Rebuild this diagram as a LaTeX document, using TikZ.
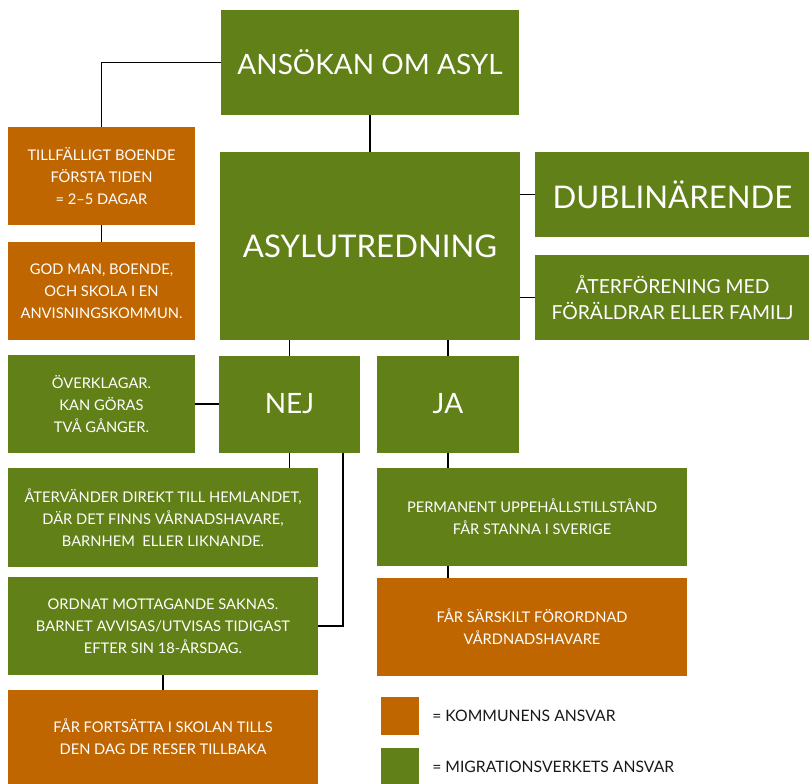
\documentclass[tikz,border=0pt]{standalone}
\usepackage{fontspec}
\setmainfont{Lato}
\usetikzlibrary{positioning}

\definecolor{mvgreen}{RGB}{98,128,24}
\definecolor{komorange}{RGB}{192,102,0}

\begin{document}
\begin{tikzpicture}[
    x=0.75pt, y=-0.75pt,
    box/.style={rectangle, inner sep=2pt, outer sep=0pt, text centered, align=center, text=white},
    green/.style={box, fill=mvgreen},
    orange/.style={box, fill=komorange},
    big/.style={font=\fontsize{21}{24}\selectfont},
    huge/.style={font=\fontsize{23.4}{26}\selectfont},
    small/.style={font=\fontsize{11}{16.5}\selectfont},
    mid/.style={font=\fontsize{14.5}{19.5}\selectfont},
    line/.style={line width=0.9pt, black},
    legend/.style={rectangle, minimum width=28.5pt, minimum height=28.5pt, outer sep=0pt},
    legendtext/.style={font=\fontsize{11.8}{14}\selectfont, text=black!90, inner sep=0pt},
]
\useasboundingbox (0,0) rectangle (809,784);

% Top of the tree
\node[green, big, minimum width=223.5pt, minimum height=78.75pt, anchor=north west] (ansokan) at (221,10) {ANSÖKAN OM ASYL};
\node[green, huge, minimum width=225pt, minimum height=141pt, below=27.75pt of ansokan] (utred) {ASYLUTREDNING};

% Right hand outcomes
\node[green, huge, minimum width=206.25pt, minimum height=63.75pt, right=11.25pt of utred.north east, anchor=north west] (dublin) {DUBLINÄRENDE};
\node[green, mid, minimum width=206.25pt, minimum height=63.75pt, below=13.5pt of dublin] (aterf) {ÅTERFÖRENING MED\\FÖRÄLDRAR ELLER FAMILJ};

% Municipality column
\node[orange, small, minimum width=140.25pt, minimum height=73.5pt, anchor=north west] (tillf) at (8,127) {TILLFÄLLIGT BOENDE\\FÖRSTA TIDEN\\= 2–5 DAGAR};
\node[orange, small, minimum width=140.25pt, minimum height=73.5pt, below=12.75pt of tillf] (godman) {GOD MAN, BOENDE,\\OCH SKOLA I EN\\ANVISNINGSKOMMUN.};

% Decision
\node[green, small, minimum width=140.25pt, minimum height=73.5pt, anchor=north west] (overkl) at (8,355) {ÖVERKLAGAR.\\KAN GÖRAS\\TVÅ GÅNGER.};
\node[green, big, minimum width=105.75pt, minimum height=72.75pt, right=18pt of overkl] (nej) {NEJ};
\node[green, big, minimum width=106.5pt, minimum height=72.75pt, right=12.75pt of nej] (ja) {JA};

% No branch
\node[green, small, minimum width=232.5pt, minimum height=74.25pt, anchor=north west] (aterv) at (8,468) {ÅTERVÄNDER DIREKT TILL HEMLANDET,\\DÄR DET FINNS VÅRNADSHAVARE,\\BARNHEM\ \ ELLER LIKNANDE.};
\node[green, small, minimum width=232.5pt, minimum height=73.5pt, below=7.5pt of aterv] (ordnat) {ORDNAT MOTTAGANDE SAKNAS.\\BARNET AVVISAS/UTVISAS TIDIGAST\\EFTER SIN 18-ÅRSDAG.};
\node[orange, small, minimum width=232.5pt, minimum height=70.5pt, below=11.25pt of ordnat] (fortsatta) {FÅR FORTSÄTTA I SKOLAN TILLS\\DEN DAG DE RESER TILLBAKA};

% Yes branch
\node[green, small, minimum width=232.5pt, minimum height=73.5pt, below=11.25pt of ja.south west, anchor=north west] (perm) {PERMANENT UPPEHÅLLSTILLSTÅND\\FÅR STANNA I SVERIGE};
\node[orange, small, minimum width=232.5pt, minimum height=73.5pt, below=9pt of perm] (sarsk) {FÅR SÄRSKILT FÖRORDNAD\\VÅRDNADSHAVARE};

% Legend
\node[legend, fill=komorange, anchor=north west] (legkom) at (381,697) {};
\node[legend, fill=mvgreen, below=9.75pt of legkom] (legmig) {};
\node[legendtext, right=9.75pt of legkom] (legkomtxt) {= KOMMUNENS ANSVAR};
\node[legendtext, right=9.75pt of legmig] (legmigtxt) {= MIGRATIONSVERKETS ANSVAR};

% Connectors
\coordinate (nejout) at ([xshift=-12.75pt]nej.south east);
\draw[line] (ansokan.west) -| (tillf.north);
\draw[line] (tillf) -- (godman);
\draw[line] (ansokan.south) -- (ansokan.south |- utred.north);
\draw[line] (dublin.west) -- (dublin.west -| utred.east);
\draw[line] (aterf.west) -- (aterf.west -| utred.east);
\draw[line] (nej.north) -- (nej.north |- utred.south);
\draw[line] (ja.north) -- (ja.north |- utred.south);
\draw[line] (overkl) -- (nej);
\draw[line] (nej.south) -- (nej.south |- aterv.north);
\draw[line] (nejout) |- (ordnat.east);
\draw[line] (ordnat) -- (fortsatta);
\draw[line] (ja.south) -- (ja.south |- perm.north);
\draw[line] (perm.south -| ja.south) -- (sarsk.north -| ja.south);

\end{tikzpicture}
\end{document}
